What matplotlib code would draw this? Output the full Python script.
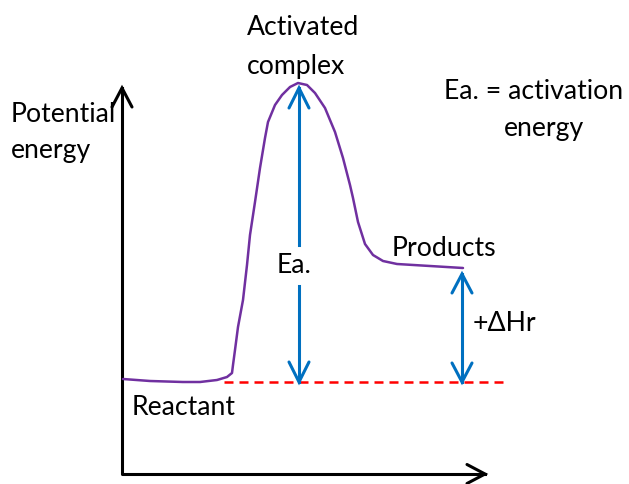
import matplotlib.pyplot as plt

# reaction path (picture coordinates, y grows downward)
path_x = [123, 150, 183, 200, 217, 227, 232, 233, 235, 238, 243, 247, 250, 255,
          260, 265, 268, 275, 282, 290, 298, 307, 315, 325, 335, 343, 350, 353,
          358, 365, 373, 383, 397, 430, 463]
path_y = [379, 381, 382, 382, 380, 377, 373, 365, 350, 327, 300, 265, 235, 202,
          168, 138, 122, 105, 95, 87, 83, 85, 93, 108, 132, 158, 185, 198,
          222, 244, 255, 261, 264, 266, 268]

reactant_level = 382
peak_level = 88
product_level = 274
ea_x = 299
dh_x = 462
ref_line = [224, 508]

labels = ["Activated", "complex", "Potential", "energy", "Ea. = activation",
          "energy", "Ea.", "Products", "+ΔHr", "Reactant"]
label_x = [247, 247, 11, 11, 534, 544, 277, 392, 473, 132]
label_y = [35, 74, 122, 158, 99, 136, 273, 256, 331, 415]
label_ha = ["left", "left", "left", "left", "center", "center", "left", "left", "left", "left"]

PURPLE = "#7030A0"
BLUE = "#0070C0"


def chevron(ax, x, y, dx, dy, color, lw, horizontal=False):
    """Open arrow head with tip at (x, y), wings offset by (dx, dy)."""
    if horizontal:
        xs, ys = [x + dx, x, x + dx], [y - dy, y, y + dy]
    else:
        xs, ys = [x - dx, x, x + dx], [y + dy, y, y + dy]
    ax.plot(xs, ys, color=color, lw=lw, solid_capstyle="round",
            solid_joinstyle="miter")


fig = plt.figure(figsize=(6.29, 4.84), dpi=100)
ax = fig.add_axes([0, 0, 1, 1])
ax.set_xlim(0, 629)
ax.set_ylim(484, 0)
ax.axis("off")

# axes
ax.plot([122, 122, 485], [88, 474, 474], color="black", lw=2.2)
chevron(ax, 122, 88, 10, 19, "black", 2.2)
chevron(ax, 485, 474, -18, 9.5, "black", 2.2, horizontal=True)

# dashed reference line
ax.plot(ref_line, [reactant_level, reactant_level], color="#FF0000", lw=1.8,
        linestyle=(0, (3.6, 2.4)))

# energy profile
ax.plot(path_x, path_y, color=PURPLE, lw=1.8, solid_joinstyle="round",
        solid_capstyle="round")

# Ea arrow with gap for the label
ax.plot([ea_x, ea_x], [peak_level, 245], color=BLUE, lw=2.2)
ax.plot([ea_x, ea_x], [286, reactant_level], color=BLUE, lw=2.2)
chevron(ax, ea_x, peak_level, 10, 20, BLUE, 2.2)
chevron(ax, ea_x, reactant_level, 10, -20, BLUE, 2.2)

# enthalpy arrow
ax.plot([dh_x, dh_x], [product_level, reactant_level], color=BLUE, lw=2.2)
chevron(ax, dh_x, product_level, 10, 19, BLUE, 2.2)
chevron(ax, dh_x, reactant_level, 10, -19, BLUE, 2.2)

for text, x, y, ha in zip(labels, label_x, label_y, label_ha):
    ax.text(x, y, text, ha=ha, va="baseline", fontsize=19.2,
            family=["Lato", "DejaVu Sans"], color="black")

fig.savefig("out.png", dpi=100)
